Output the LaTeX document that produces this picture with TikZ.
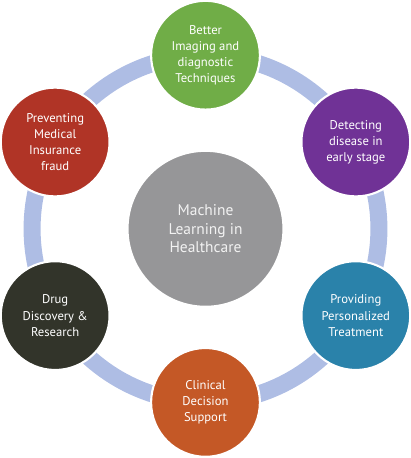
\documentclass[tikz,border=0pt]{standalone}
\usepackage{fontspec}
\setmainfont{PT Sans}
\usepackage{xcolor}
\usetikzlibrary{positioning,calc,backgrounds}

\definecolor{ringblue}{RGB}{174,189,228}
\definecolor{imggreen}{RGB}{112,173,71}
\definecolor{detpurple}{RGB}{112,50,150}
\definecolor{persblue}{RGB}{42,130,170}
\definecolor{clinorange}{RGB}{196,88,38}
\definecolor{drugdark}{RGB}{50,52,42}
\definecolor{fraudred}{RGB}{176,52,38}
\definecolor{coregray}{RGB}{150,150,152}

\begin{document}
\begin{tikzpicture}[
    font=\fontsize{9}{11.4}\selectfont,
    core/.style={circle, fill=coregray, draw=white, line width=1.5pt, minimum size=3.9cm, align=center, text=white!90!gray, font=\fontsize{11}{13.2}\selectfont},
    topic/.style={circle, draw=white, line width=1.5pt, minimum size=2.72cm, align=center, text=white},
    ring/.style={line width=0.425cm, ringblue, bend right=30, looseness=0.91}
]
    \useasboundingbox (-5.1375,-5.73) rectangle (5.1375,5.72);

    % Center
    \node[core] (ml) at (0,0) {Machine\\Learning in\\Healthcare};

    % Topics round the ring
    \node[topic, fill=imggreen] (img) at (90:4.34) {Better\\Imaging and\\diagnostic\\Techniques};
    \node[topic, fill=detpurple] (det) at (30:4.34) {Detecting\\disease in\\early stage};
    \node[topic, fill=persblue] (pers) at (-30:4.34) {Providing\\Personalized\\Treatment};
    \node[topic, fill=clinorange] (clin) at (-90:4.34) {Clinical\\Decision\\Support};
    \node[topic, fill=drugdark] (drug) at (-150:4.34) {Drug\\Discovery \&\\Research};
    \node[topic, fill=fraudred] (fraud) at (150:4.34) {Preventing\\Medical\\Insurance\\fraud};

    % Ring
    \begin{scope}[on background layer]
        \draw[ring] (img.center) to (fraud.center);
        \draw[ring] (fraud.center) to (drug.center);
        \draw[ring] (drug.center) to (clin.center);
        \draw[ring] (clin.center) to (pers.center);
        \draw[ring] (pers.center) to (det.center);
        \draw[ring] (det.center) to (img.center);
    \end{scope}
\end{tikzpicture}
\end{document}
